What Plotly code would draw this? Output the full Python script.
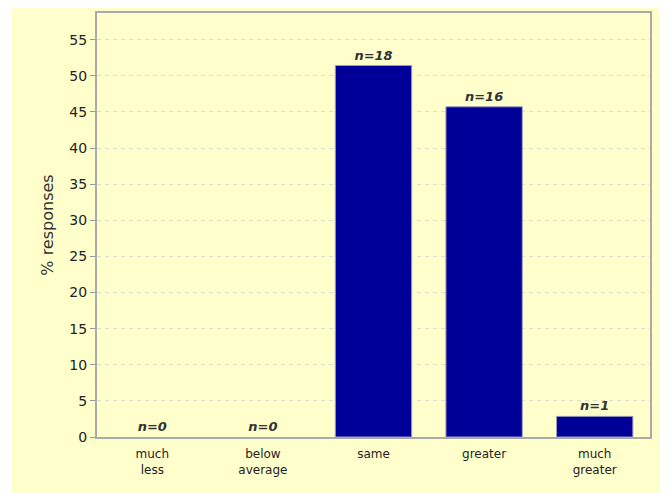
import plotly.graph_objects as go

categories = ["much<br>less", "below<br>average", "same", "greater", "much<br>greater"]
counts = [0, 0, 18, 16, 1]
total = 35
percent = [c / total * 100 for c in counts]
labels = [f"<i><b>n={c}</b></i>" for c in counts]
outline = [0 if c == 0 else 1 for c in counts]

BG = "#FFFFCC"

fig = go.Figure()
fig.add_trace(go.Bar(
    x=categories, y=percent,
    marker=dict(color="#000099", line=dict(color="#9999BB", width=outline)),
    text=labels, textposition="outside", cliponaxis=False,
    textfont=dict(family="DejaVu Sans", size=13, color="#333333"),
    hoverinfo="skip",
))

fig.update_layout(
    width=659, height=485,
    paper_bgcolor=BG, plot_bgcolor=BG,
    margin=dict(l=89, r=17, t=3, b=56),
    bargap=0.31,
    showlegend=False,
    font=dict(family="DejaVu Sans", color="#222222"),
)
fig.update_xaxes(
    showline=True, linecolor="#AAAAAA", linewidth=2, mirror=True,
    ticks="", showgrid=False, ticklabelstandoff=5,
    tickfont=dict(family="DejaVu Sans", size=12, color="#222222"),
)
fig.update_yaxes(
    range=[0, 58.7], dtick=5, tick0=0,
    showline=True, linecolor="#AAAAAA", linewidth=2, mirror=True,
    ticks="outside", ticklen=5, tickcolor="#999999",
    showgrid=True, gridcolor="#DDDDCC", griddash="4px,4px", gridwidth=1,
    zeroline=False,
    tickfont=dict(family="DejaVu Sans", size=14, color="#222222"),
    title=dict(text="% responses", font=dict(family="DejaVu Sans", size=16, color="#333333"), standoff=12),
)
# white strip at the left edge of the image
fig.add_shape(type="rect", xref="paper", yref="paper", x0=-0.2, x1=-0.1537, y0=-0.2, y1=1.1,
              fillcolor="white", line_width=0, layer="below")

fig.write_html("out.html")
